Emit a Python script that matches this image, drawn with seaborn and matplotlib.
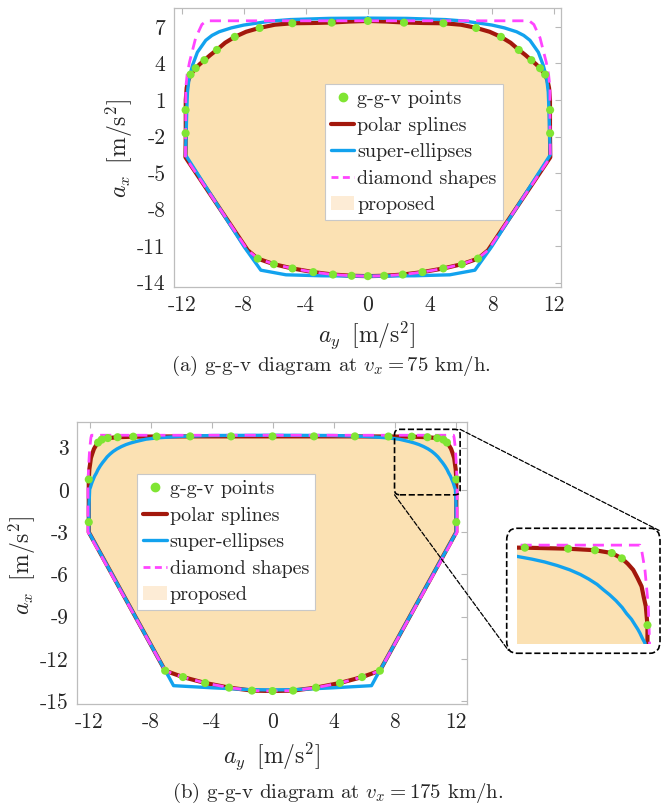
import matplotlib
matplotlib.use("Agg")
import matplotlib.pyplot as plt
import seaborn as sns
from matplotlib.lines import Line2D
from matplotlib.patches import Patch, FancyBboxPatch, ConnectionPatch

# right halves of the contours (top centre -> bottom centre), mirrored later
# (a) v_x = 75 km/h
a_red_x = [0, 1.2, 2.33, 3.6, 4.87, 6.0, 6.98, 7.85, 8.58, 9.2, 9.73, 10.15, 10.54, 10.85, 11.1, 11.3, 11.43, 11.58, 11.68, 11.74, 11.74, 11.76, 7.75, 7.1, 6.06, 4.86, 3.52, 2.25, 1.05, 0]
a_red_y = [7.49, 7.44, 7.36, 7.32, 7.3, 7.18, 6.92, 6.6, 6.18, 5.7, 5.12, 4.7, 4.27, 3.93, 3.61, 3.3, 3.07, 2.6, 2.0, 1.0, -1.73, -3.7, -11.33, -12.02, -12.48, -12.83, -13.13, -13.33, -13.43, -13.46]
a_blue_x = [0, 2.5, 5.0, 6.2, 7.22, 8.0, 8.8, 9.59, 10.05, 10.45, 10.99, 11.31, 11.53, 11.63, 11.68, 11.72, 11.76, 7.97, 6.9, 5.28, 3.0, 0]
a_blue_y = [7.72, 7.7, 7.6, 7.48, 7.3, 7.15, 6.92, 6.6, 6.3, 5.9, 4.92, 3.83, 2.74, 1.65, 0.0, -2.0, -3.5, -11.06, -12.97, -13.35, -13.43, -13.46]
a_dia_x = [0, 10.4, 10.7, 11.1, 11.5, 11.65, 11.74, 11.74, 11.76, 7.75, 7.1, 6.06, 4.86, 3.52, 2.25, 1.05, 0]
a_dia_y = [7.5, 7.5, 7.2, 6.1, 4.1, 3.1, 2.0, -1.0, -3.7, -11.33, -12.0, -12.48, -12.83, -13.13, -13.33, -13.43, -13.47]
a_pts_x = [0, 2.33, 4.87, 6.98, 8.58, 9.73, 10.54, 11.1, 11.43, 11.75, 11.75, 7.1, 6.06, 4.86, 3.52, 2.25, 1.05, 0]
a_pts_y = [7.49, 7.35, 7.3, 6.91, 6.18, 5.11, 4.27, 3.61, 3.09, 0.18, -1.73, -12.02, -12.48, -12.83, -13.13, -13.33, -13.43, -13.46]

# (b) v_x = 175 km/h
b_red_x = [0, 2.72, 5.4, 7.6, 9.13, 10.16, 10.8, 11.2, 11.44, 11.58, 11.71, 11.81, 11.91, 11.96, 12.01, 12.05, 12.05, 12.05, 7.04, 5.87, 4.42, 2.85, 1.35, 0]
b_red_y = [3.8, 3.8, 3.8, 3.79, 3.78, 3.74, 3.68, 3.57, 3.36, 3.15, 2.91, 2.6, 2.26, 1.85, 1.48, 0.74, -2.29, -3.0, -12.84, -13.29, -13.71, -14.04, -14.25, -14.28]
b_blue_x = [0, 4.0, 6.0, 7.5, 8.3, 8.97, 9.3, 9.6, 9.9, 10.2, 10.45, 10.65, 10.85, 11.0, 11.15, 11.3, 11.45, 11.55, 11.67, 11.75, 11.82, 11.87, 11.93, 11.99, 12.03, 12.05, 7.04, 6.82, 6.49, 4.0, 1.57, 0]
b_blue_y = [3.88, 3.86, 3.8, 3.7, 3.6, 3.43, 3.33, 3.22, 3.08, 2.91, 2.73, 2.55, 2.34, 2.13, 1.93, 1.7, 1.43, 1.2, 0.97, 0.76, 0.58, 0.43, 0.22, 0.04, -1.0, -3.0, -12.84, -13.24, -13.9, -14.05, -14.18, -14.2]
b_dia_x = [0, 11.87, 11.91, 11.99, 12.07, 12.1, 12.1, 7.04, 5.87, 4.42, 2.85, 1.35, 0]
b_dia_y = [3.88, 3.88, 3.69, 2.91, 1.48, 0.04, -3.0, -12.84, -13.29, -13.71, -14.04, -14.25, -14.28]
b_pts_x = [0, 2.72, 5.4, 7.6, 9.13, 10.16, 10.8, 11.2, 11.44, 12.05, 12.05, 7.04, 5.87, 4.42, 2.85, 1.35, 0]
b_pts_y = [3.8, 3.8, 3.8, 3.79, 3.78, 3.74, 3.68, 3.57, 3.36, 0.74, -2.29, -12.84, -13.29, -13.71, -14.04, -14.25, -14.28]

a_xticks = [-12, -8, -4, 0, 4, 8, 12]
a_yticks = [-14, -11, -8, -5, -2, 1, 4, 7]
b_xticks = [-12, -8, -4, 0, 4, 8, 12]
b_yticks = [-15, -12, -9, -6, -3, 0, 3]
labels = ["g-g-v points", "polar splines", "super-ellipses", "diamond shapes", "proposed"]

GREEN = "#80e533"
RED = "#a3180c"
BLUE = "#12a2ee"
MAG = "#ff45ff"
FILL = "#fbe1b3"
FILL_LEG = "#fdecd6"
DASH = (0, (4.0, 2.5))

sns.set_style("white")
plt.rcParams['font.family'] = ['cmr10']
plt.rcParams['mathtext.fontset'] = 'cm'
plt.rcParams['axes.unicode_minus'] = False


def closed(xr, yr):
    return list(xr) + [-v for v in reversed(xr)], list(yr) + list(reversed(yr))


def mirror_pts(xr, yr):
    xs, ys = list(xr), list(yr)
    for x, y in zip(xr, yr):
        if x != 0:
            xs.append(-x)
            ys.append(y)
    return xs, ys


def draw(ax, red, blue, dia, pts):
    rx, ry = closed(*red)
    bx, by = closed(*blue)
    dx, dy = closed(*dia)
    px, py = mirror_pts(*pts)
    ax.fill(rx, ry, color=FILL, lw=0, zorder=1)
    sns.lineplot(x=rx, y=ry, sort=False, estimator=None, color=RED, lw=3.0, ax=ax, zorder=2)
    sns.lineplot(x=bx, y=by, sort=False, estimator=None, color=BLUE, lw=2.4, ax=ax, zorder=3)
    sns.lineplot(x=dx, y=dy, sort=False, estimator=None, color=MAG, lw=2.0,
                 linestyle=DASH, ax=ax, zorder=4)
    sns.scatterplot(x=px, y=py, color=GREEN, s=34, edgecolor="none", ax=ax, zorder=5)


def style(ax, xlim, ylim, xticks, yticks, leg_anchor):
    ax.set_xlim(*xlim)
    ax.set_ylim(*ylim)
    ax.set_xticks(xticks)
    ax.set_xticklabels([str(t) for t in xticks])
    ax.set_yticks(yticks)
    ax.set_yticklabels([str(t) for t in yticks])
    ax.tick_params(direction="in", top=True, right=True, length=4, width=0.8,
                   color="#b8b8b8", labelsize=15.5, labelcolor="#262626", pad=6)
    for s in ax.spines.values():
        s.set_color("#bdbdbd")
        s.set_linewidth(0.9)
    handles = [
        Line2D([], [], marker="o", ls="none", color=GREEN, markersize=6),
        Line2D([], [], color=RED, lw=3.0),
        Line2D([], [], color=BLUE, lw=2.4),
        Line2D([], [], color=MAG, lw=2.0, ls=(0, (2.5, 1.6))),
        Patch(color=FILL_LEG, lw=0),
    ]
    leg = ax.legend(handles, labels, loc="upper left", bbox_to_anchor=leg_anchor,
                    borderaxespad=0, fontsize=14.5, frameon=True, fancybox=False,
                    framealpha=1, edgecolor="#c8c8c8", handlelength=1.15,
                    handletextpad=0.15, labelspacing=0.42, borderpad=0.3)
    leg.get_frame().set_linewidth(0.8)
    leg.set_zorder(10)


fig = plt.figure(figsize=(6.62, 8.10), dpi=100)

ax_a = fig.add_axes([0.2628, 0.6457, 0.5846, 0.3444])
draw(ax_a, (a_red_x, a_red_y), (a_blue_x, a_blue_y), (a_dia_x, a_dia_y), (a_pts_x, a_pts_y))
style(ax_a, (-12.5, 12.45), (-14.35, 8.55), a_xticks, a_yticks, (0.39, 0.728))

ax_b = fig.add_axes([0.1168, 0.1309, 0.5886, 0.3481])
draw(ax_b, (b_red_x, b_red_y), (b_blue_x, b_blue_y), (b_dia_x, b_dia_y), (b_pts_x, b_pts_y))
style(ax_b, (-12.8, 12.75), (-15.2, 4.82), b_xticks, b_yticks, (0.154, 0.816))

# zoomed corner
ax_in = fig.add_axes([0.7814, 0.2049, 0.2030, 0.1284])
draw(ax_in, (b_red_x, b_red_y), (b_blue_x, b_blue_y), (b_dia_x, b_dia_y), (b_pts_x, b_pts_y))
ax_in.set_xlim(8.95, 12.15)
ax_in.set_ylim(0, 4.08)
ax_in.axis("off")

rect = FancyBboxPatch((8.0, -0.35), 4.3, 4.65, boxstyle="round,pad=0,rounding_size=0.35",
                      transform=ax_b.transData, fill=False, ls="--", lw=1.2, ec="k", zorder=8)
ax_b.add_patch(rect)
box = FancyBboxPatch((0.7654, 0.1935), 0.2316, 0.1543, boxstyle="round,pad=0,rounding_size=0.015",
                     transform=fig.transFigure, fill=False, ls="--", lw=1.2, ec="k")
fig.patches.append(box)
for pa, pb in [((12.3, 4.3), (0.996, 0.345)), ((8.0, -0.35), (0.768, 0.197))]:
    con = ConnectionPatch(xyA=pa, coordsA=ax_b.transData, xyB=pb, coordsB=fig.transFigure,
                          ls="--", color="k", lw=0.9)
    fig.add_artist(con)

xlab = r"$a_y\;\;[\mathrm{m/s}^2]$"
ylab = r"$a_x\;\;[\mathrm{m/s}^2]$"
fig.text(367 / 662, 1 - 335 / 810, xlab, ha="center", va="center", fontsize=17, color="#262626")
fig.text(119 / 662, 1 - 149 / 810, ylab, ha="center", va="center", rotation=90, fontsize=17, color="#262626")
fig.text(272 / 662, 1 - 756 / 810, xlab, ha="center", va="center", fontsize=17, color="#262626")
fig.text(22 / 662, 1 - 566 / 810, ylab, ha="center", va="center", rotation=90, fontsize=17, color="#262626")

fig.text(331 / 662, 1 - 366 / 810, r"(a) g-g-v diagram at $v_x = 75$ km/h.", ha="center", va="center", fontsize=15)
fig.text(338 / 662, 1 - 793 / 810, r"(b) g-g-v diagram at $v_x = 175$ km/h.", ha="center", va="center", fontsize=15)

fig.savefig("out.png", dpi=100)
